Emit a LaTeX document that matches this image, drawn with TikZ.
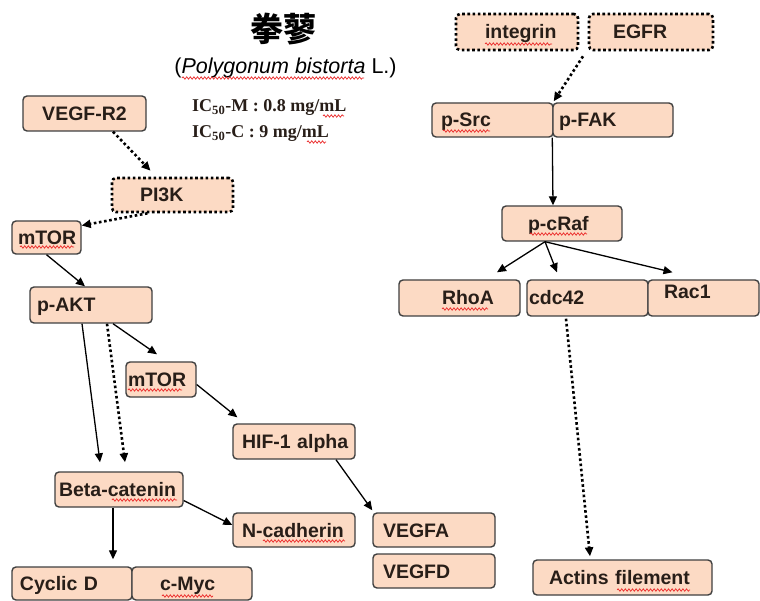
\documentclass[tikz,border=0pt]{standalone}
\usepackage{fontspec}
\setmainfont{Liberation Sans}
\newfontfamily\serific{Liberation Serif}
\newfontfamily\cjk{Noto Sans CJK TC}
\usetikzlibrary{arrows.meta,decorations.pathmorphing}
\definecolor{boxfill}{RGB}{252,218,196}
\definecolor{boxline}{RGB}{64,64,64}
\definecolor{ink}{RGB}{40,30,24}
\definecolor{spell}{RGB}{235,40,40}
\begin{document}
\begin{tikzpicture}[x=1pt,y=-1pt,
  box/.style={draw=boxline, fill=boxfill, line width=1.4pt, rounded corners=4pt,
    inner xsep=0pt, inner ysep=0pt, text height=14pt, text depth=0pt,
    font=\bfseries\fontsize{19.5}{22}\selectfont, text=ink, align=left},
  dotbox/.style={box, draw=black, line width=2.6pt, dash pattern=on 2.6pt off 2.6pt},
  arr/.style={-{Triangle[length=9pt,width=8pt]}, line width=1.3pt},
  dotarr/.style={arr, line width=2.6pt, dash pattern=on 2.6pt off 2.6pt},
  ictext/.style={anchor=base west, inner sep=0pt, font=\serific\bfseries\fontsize{18}{20}\selectfont, text=ink},
  wavy/.style={draw=spell, line width=0.7pt, decorate,
    decoration={snake, amplitude=1.2pt, segment length=3.6pt}}]
\useasboundingbox (0,0) rectangle (760,601);
\fill[white] (0,0) rectangle (760,601);

% heading
\node[font=\cjk\bfseries\fontsize{33}{33}\selectfont, text=black] (herb) at (283.5,29) {拳蓼};
\node[font=\fontsize{21.5}{24}\selectfont, text=black] (latin) at (285.5,68) {(\textit{Polygonum bistorta} L.)};
\node[ictext] (icm) at (192,112) {IC\textsubscript{50}-M : 0.8 mg/mL};
\node[ictext] (icc) at (192,138) {IC\textsubscript{50}-C : 9 mg/mL};

% left pathway
\node[box, text width=123pt, minimum height=35pt, align=center] (vegfr2) at (84.5,113.5) {VEGF-R2};
\node[dotbox, text width=121pt, minimum height=34pt] (pi3k) at (172.5,195) {\hspace*{28pt}PI3K};
\node[box, text width=69pt, minimum height=33pt] (mtorA) at (46.5,237.5) {\hspace*{6pt}mTOR};
\node[box, text width=122pt, minimum height=36pt] (pakt) at (91,305) {\hspace*{7pt}p-AKT};
\node[box, text width=70pt, minimum height=35pt] (mtorB) at (161,379.5) {\hspace*{2pt}mTOR};
\node[box, text width=122pt, minimum height=35pt] (hif) at (294,441.5) {\hspace*{9pt}HIF-1 alpha};
\node[box, text width=128pt, minimum height=35pt] (beta) at (119,489.5) {\hspace*{4pt}Beta-catenin};
\node[box, text width=122pt, minimum height=34pt] (ncad) at (294,530) {\hspace*{9pt}N-cadherin};
\node[box, text width=122pt, minimum height=34pt] (vegfa) at (434,530) {\hspace*{10pt}VEGFA};
\node[box, text width=122pt, minimum height=34pt] (vegfd) at (434,571) {\hspace*{10pt}VEGFD};
\node[box, text width=120pt, minimum height=33pt] (cycd) at (72,583.5) {\hspace*{8pt}Cyclic D};
\node[box, text width=120pt, minimum height=33pt] (cmyc) at (192,583.5) {\hspace*{28pt}c-Myc};

% right pathway
\node[dotbox, text width=122pt, minimum height=36pt] (itg) at (517,32) {\hspace*{29pt}integrin};
\node[dotbox, text width=124pt, minimum height=36pt] (egfr) at (651,32) {\hspace*{24pt}EGFR};
\node[box, text width=121pt, minimum height=34pt] (psrc) at (492.5,120) {\hspace*{9pt}p-Src};
\node[box, text width=120pt, minimum height=34pt] (pfak) at (613,120) {\hspace*{6pt}p-FAK};
\node[box, text width=120pt, minimum height=35pt] (pcraf) at (562,223.5) {\hspace*{26pt}p-cRaf};
\node[box, text width=121pt, minimum height=36pt] (rhoa) at (459.5,298) {\hspace*{43pt}RhoA};
\node[box, text width=121pt, minimum height=36pt] (cdc) at (587.5,298) {\hspace*{2pt}cdc42};
\node[box, text width=111pt, minimum height=36pt, text height=2pt] (rac) at (703.5,298) {\hspace*{16pt}Rac1};
\node[box, text width=179pt, minimum height=35pt] (actin) at (622.5,577.5) {\hspace*{16pt}Actins filement};

% connectors, left
\draw[dotarr] ([xshift=28.5pt]vegfr2.south) -- ([xshift=-22pt,yshift=6pt]pi3k.north);
\draw[dotarr] ([xshift=-25pt]pi3k.south) -- ([yshift=12pt]mtorA.east);
\draw[arr] (mtorA.south) -- ([xshift=-6pt]pakt.north);
\draw[arr] ([xshift=22pt]pakt.south) -- ([xshift=-4pt,yshift=7pt]mtorB.north);
\draw[arr] ([xshift=-9pt]pakt.south) -- ([xshift=-19pt,yshift=9pt]beta.north);
\draw[dotarr] ([xshift=16pt]pakt.south) -- ([xshift=6pt,yshift=9pt]beta.north);
\draw[arr] ([yshift=-5pt]mtorB.east) -- ([xshift=5pt,yshift=6pt]hif.north west);
\draw[arr] ([xshift=42pt]hif.south) -- ([yshift=2pt]vegfa.north west);
\draw[arr] ([yshift=-11pt]beta.east) -- ([yshift=5pt]ncad.west);
\draw[arr] ([xshift=-6pt]beta.south) -- ([xshift=41pt,yshift=7pt]cycd.north);

% connectors, right
\draw[dotarr] ([xshift=-68pt,yshift=-5pt]egfr.south) -- ([yshift=1pt]psrc.north east);
\draw[arr] (pfak.south west) -- ([xshift=-9pt]pcraf.north);
\draw[arr] ([xshift=-17pt]pcraf.south) -- ([xshift=37.5pt,yshift=7pt]rhoa.north);
\draw[arr] ([xshift=-17pt]pcraf.south) -- ([xshift=-30.5pt,yshift=7pt]cdc.north);
\draw[arr] ([xshift=-17pt]pcraf.south) -- ([xshift=-31pt,yshift=7pt]rac.north);
\draw[dotarr] ([xshift=-21.5pt,yshift=-2pt]cdc.south) -- ([xshift=-32.5pt,yshift=3pt]actin.north);

% spell-check underlines
\draw[wavy] (182,78) -- (364,78);
\draw[wavy] (323,116) -- (344,116);
\draw[wavy] (307,142) -- (326,142);
\draw[wavy] (20,247) -- (74,247);
\draw[wavy] (128,390) -- (182,390);
\draw[wavy] (485,44) -- (552,44);
\draw[wavy] (443,131) -- (490,131);
\draw[wavy] (530,234) -- (587,234);
\draw[wavy] (442,309) -- (488,309);
\draw[wavy] (112,500) -- (177,500);
\draw[wavy] (263,541) -- (345,541);
\draw[wavy] (162,596) -- (213,596);
\draw[wavy] (617,590) -- (690,590);
\end{tikzpicture}
\end{document}
